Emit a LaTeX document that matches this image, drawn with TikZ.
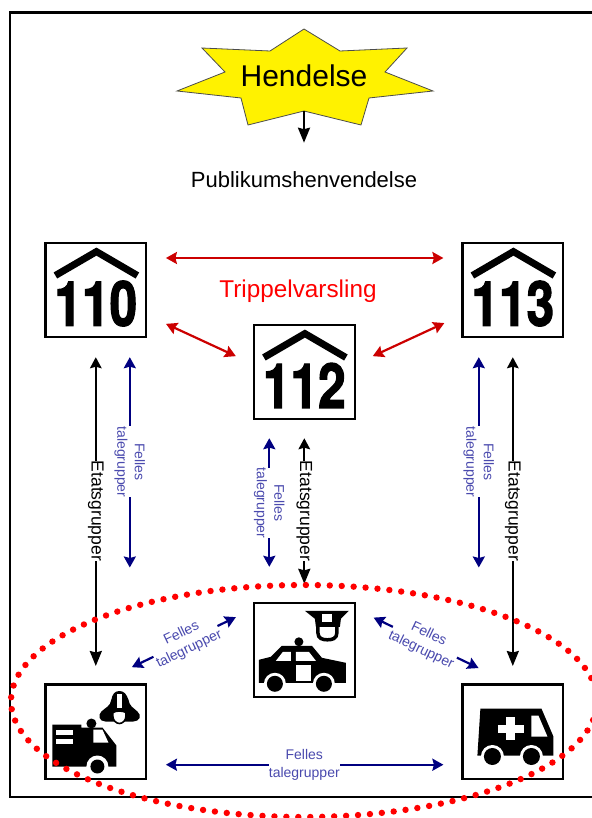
\documentclass[tikz,border=0pt]{standalone}
\usepackage{fontspec}
\setmainfont{Liberation Sans}
\newfontfamily\signfont[FakeBold=2.2]{TeX Gyre Heros}
\usetikzlibrary {
  positioning,
  arrows.meta,
}
\definecolor{talered}{HTML}{CC0000}
\definecolor{talenavy}{HTML}{000080}
\definecolor{taleblue}{HTML}{4A4AAE}
\tikzset{
  sign/.style = {
    rectangle,
    draw = black,
    fill = white,
    line width = 2.2pt,
    minimum width = 100.8pt,
    minimum height = 94.4pt,
    inner sep = 0pt,
    outer sep = 0pt
  },
  number/.style = {
    font = \fontsize{62}{62}\signfont\bfseries\selectfont,
    inner sep = 0pt
  },
  roof/.style = {
    line width = 7pt,
    miter limit = 10
  },
  ink/.style = {
    fill = black,
    draw = none
  },
  blank/.style = {
    fill = white,
    draw = none
  },
  unir/.style = {
    {Stealth[length = 11pt, width = 11.5pt, inset = 1.5pt]}-{Stealth[length = 15pt, width = 12pt, inset = 1.5pt]},
    line width = 2.2pt,
    black
  },
  blueline/.style = {
    {Stealth[length = 11pt, width = 12pt, inset = 1.5pt]}-{Stealth[length = 11pt, width = 12pt, inset = 1.5pt]},
    line width = 2.2pt,
    color = talenavy
  },
  redline/.style = {
    {Stealth[length = 11pt, width = 12pt, inset = 1.5pt]}-{Stealth[length = 11pt, width = 12pt, inset = 1.5pt]},
    line width = 2.2pt,
    color = talered
  },
  etat/.style = {
    font = \fontsize{17.5}{20}\selectfont,
    fill = white,
    text = black,
    inner sep = 0pt,
    rotate = -90
  },
  felles/.style = {
    font = \fontsize{14}{17.5}\selectfont,
    fill = white,
    text = taleblue,
    align = center,
    inner sep = 0pt
  },
  dots/.style = {
    draw = red,
    line width = 6.4pt,
    line cap = round,
    dash pattern = on 0pt off 11.95pt
  },
}
\begin{document}
\begin{tikzpicture}[x = 1pt, y = -1pt]
  \useasboundingbox (0,0) rectangle (591,818);
  \draw[line width = 2.2pt] (600,12.5) -- (10,12.5) -- (10,797) -- (600,797);
  % star
  \draw[fill = yellow, draw = black!70, line width = .8pt]
    (304,29) -- (340,51) -- (407,48) -- (385,72) -- (433,91) -- (369,98)
    -- (361,125) -- (304,111) -- (248,125) -- (241,98) -- (177,91)
    -- (225,72) -- (202,48) -- (270,51) -- cycle;
  \node[minimum height = 70pt, inner sep = 0pt, outer sep = 0pt,
    font = \fontsize{30}{30}\selectfont] (hendelse) at (304,76) {Hendelse};
  \node[inner sep = 0pt, font = \fontsize{22}{22}\selectfont] (publikum)
    at (304,180) {Publikumshenvendelse};
  % signs
  \node[sign] (s110) at (95.8,290) {};
  \node[sign, right = 316.2pt of s110] (s113) {};
  \node[sign] (s112) at (304.3,372) {};
  \node[sign, below = 347.3pt of s110] (brann) {};
  \node[sign, right = 316.2pt of brann] (amk) {};
  \node[sign, below = 183.6pt of s112] (politi) {};
  \foreach \s/\n in {s110/110, s112/112, s113/113} {
    \draw[roof] ([shift = {(10,32.7)}]\s.north west) -- ([shift = {(51,8.8)}]\s.north west)
      -- ([shift = {(92,32.7)}]\s.north west);
    \node[number, yshift = -13.5pt] (\s-num) at (\s) {\scalebox{.8}[1]{\n}};
  }
  % police
  \begin{scope}[shift = {(politi.north west)}]
    \fill[ink] (5,80) -- (5,57) -- (17,54) -- (28,43) -- (58,43) -- (68,55) -- (92,60)
      -- (92,80) -- cycle;
    \fill[ink] (45,39) circle[radius = 4.5pt];
    \fill[blank] (22,58) -- (29,49) -- (37,49) -- (37,58) -- cycle;
    \fill[blank] (42,49) -- (55,49) -- (62,58) -- (42,58) -- cycle;
    \fill[blank] (42,62) rectangle (57,78);
    \fill[blank] (21,81) circle[radius = 11pt];
    \fill[blank] (70,81) circle[radius = 11pt];
    \fill[ink] (21,81) circle[radius = 8pt];
    \fill[ink] (70,81) circle[radius = 8pt];
    \fill[ink] (51,8) -- (95,8) -- (87,16) -- (86,24) -- (62,24) -- (61,16) -- cycle;
    \fill[blank] (68,11) rectangle (78,19);
    \draw[line width = 3.5pt] (64,24) -- (64,30) .. controls (64,36) and (69,37) .. (73.5,37)
      .. controls (78,37) and (83,36) .. (83,30) -- (83,24);
  \end{scope}
  % fire
  \begin{scope}[shift = {(brann.north west)}]
    \fill[ink] (7,40) -- (36,40) -- (36,43) -- (57,43) -- (71,61) -- (71,82) -- (7,82) -- cycle;
    \fill[ink] (46,39) circle[radius = 5pt];
    \fill[blank] (48,45) -- (57,45) -- (63,58) -- (48,58) -- cycle;
    \fill[blank] (11,45) rectangle (28,50);
    \fill[blank] (11,54) rectangle (28,59);
    \fill[blank] (52,82) circle[radius = 11pt];
    \fill[ink] (52,82) circle[radius = 7pt];
    \fill[ink] (74,6.5) .. controls (69,6.5) and (67,10) .. (66,15)
      .. controls (65,22) and (60,23) .. (56,27) .. controls (52,31) and (54,37) .. (60,37)
      -- (88,37) .. controls (94,37) and (97,31) .. (92,27) .. controls (88,23) and (84,22) .. (83,15)
      .. controls (81,10) and (79,6.5) .. (74,6.5) -- cycle;
    \fill[blank] (72,9.5) rectangle (76.5,23);
    \draw[fill = white, line width = 1.6pt, draw = black] (67.5,28) .. controls (71,26) and (77,26) .. (80.5,28)
      -- (80.5,32) .. controls (80.5,36) and (77,39) .. (74,39) .. controls (71,39) and (67.5,36) .. (67.5,32) -- cycle;
  \end{scope}
  % ambulance
  \begin{scope}[shift = {(amk.north west)}]
    \fill[ink] (18,24) -- (79,24) -- (91,52) -- (91,71) -- (15,71) -- cycle;
    \fill[blank] (69,31) -- (76,31) -- (85,52) -- (69,52) -- cycle;
    \fill[blank] (43.7,32.7) rectangle (52.3,55.7);
    \fill[blank] (35.7,40) rectangle (61.3,48.3);
    \fill[blank] (30,72) circle[radius = 11.5pt];
    \fill[blank] (69,72) circle[radius = 11.5pt];
    \fill[ink] (30,72) circle[radius = 8.5pt];
    \fill[ink] (69,72) circle[radius = 8.5pt];
  \end{scope}
  % arrows
  \draw[-{Stealth[length = 15pt, width = 12pt, inset = 1.5pt]}, line width = 2.2pt, shorten > = 29pt]
    (hendelse.south) -- (publikum.north);
  \node[font = \fontsize{24.3}{24.3}\selectfont, text = red, inner sep = 0pt] (trippel)
    at (298,291) {Trippelvarsling};
  \draw[redline, shorten < = 19.7pt, shorten > = 19pt] ([yshift = 32pt]s110.east) -- ([yshift = 32pt]s113.west);
  \draw[redline, shorten < = 21.8pt, shorten > = 19.9pt] ([yshift = -24.7pt]s110.east) -- ([yshift = 7.5pt]s112.west);
  \draw[redline, shorten < = 19.9pt, shorten > = 19.9pt] ([yshift = -24.7pt]s113.west) -- ([yshift = 7.5pt]s112.east);
  \draw[unir, shorten < = 20pt, shorten > = 18.5pt] (s110.south) -- node[etat] (etat1) {Etatsgrupper} (brann.north);
  \draw[unir, shorten < = 19pt, shorten > = 19pt] (s112.south) -- node[etat] (etat2) {Etatsgrupper} (politi.north);
  \draw[unir, shorten < = 20pt, shorten > = 18.5pt] (s113.south) -- node[etat] (etat3) {Etatsgrupper} (amk.north);
  \draw[blueline, shorten < = 20pt, shorten > = 117pt] ([xshift = 34pt]s110.south)
    -- node[felles, rotate = -90, pos = .359] (fl1) {Felles\\talegrupper} ([xshift = 34pt]brann.north);
  \draw[blueline, shorten < = 19pt, shorten > = 36pt] ([xshift = -35pt]s112.south)
    -- node[felles, rotate = -90, pos = .456] (fl2) {Felles\\talegrupper} ([xshift = -35pt]politi.north);
  \draw[blueline, shorten < = 20pt, shorten > = 117pt] ([xshift = -34pt]s113.south)
    -- node[felles, rotate = -90, pos = .359] (fl3) {Felles\\talegrupper} ([xshift = -34pt]amk.north);
  \draw[blueline, shorten < = 19.7pt, shorten > = 19pt] ([yshift = -33pt]brann.east)
    -- node[felles] (fl4) {Felles\\talegrupper} ([yshift = -33pt]amk.west);
  \draw[blueline, shorten < = 40pt, shorten > = 20pt] (brann.north)
    -- node[felles, sloped, pos = .567] (fl5) {Felles\\talegrupper} ([yshift = 41.5pt]politi.west);
  \draw[blueline, shorten < = 38pt, shorten > = 21pt] (amk.north)
    -- node[felles, sloped, pos = .556] (fl6) {Felles\\talegrupper} ([yshift = 41.5pt]politi.east);
  \draw[dots] (304,701) ellipse[x radius = 293pt, y radius = 116pt];
\end{tikzpicture}
\end{document}
